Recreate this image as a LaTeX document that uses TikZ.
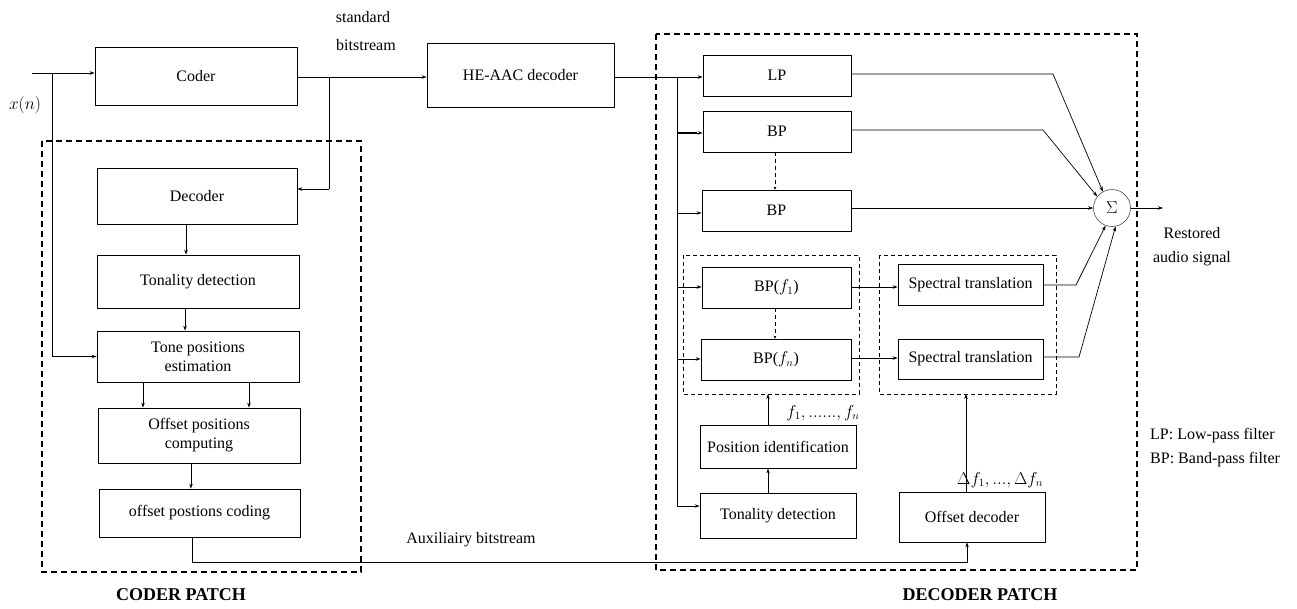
\documentclass[tikz,border=0pt]{standalone}
\usepackage{fontspec}
\setmainfont{Liberation Serif}
\usetikzlibrary{arrows.meta}
\begin{document}
\begin{tikzpicture}[x=1pt,y=-1pt,
  every node/.style={font=\fontsize{16}{19}\selectfont},
  box/.style={draw,line width=0.8pt,inner sep=0pt,align=center},
  arr/.style={line width=0.7pt,-{Stealth[length=5pt,width=3.5pt]}},
  ln/.style={line width=0.7pt},
  patch/.style={draw,line width=2.4pt,dash pattern=on 6pt off 4pt},
  grp/.style={draw,line width=0.7pt,dash pattern=on 4pt off 3pt},
  dsh/.style={line width=0.7pt,dash pattern=on 4pt off 3pt,-{Stealth[length=3pt,width=3pt]}},
  lbl/.style={inner sep=0pt},
  ttl/.style={inner sep=0pt,font=\fontsize{18}{20}\selectfont\bfseries}]
\useasboundingbox (0,0) rectangle (1297,608);

% patches
\draw[patch] (42,141) rectangle (361,572);
\draw[patch] (656,34) rectangle (1137,570);
\draw[grp] (683,255) rectangle (859,394);
\draw[grp] (879,255) rectangle (1056,394);
\coordinate (g1s) at (768,394);
\coordinate (g2s) at (966,394);

% coder side boxes
\node[box,minimum width=202pt,minimum height=58pt] (coder) at (196,76) {Coder};
\node[box,minimum width=187pt,minimum height=64pt] (he) at (520.5,75) {HE-AAC decoder};
\node[box,minimum width=200pt,minimum height=56pt] (dec) at (197,196) {Decoder};
\node[box,minimum width=202pt,minimum height=53pt] (ton1) at (198,281.5) {Tonality detection};
\node[box,minimum width=202pt,minimum height=51pt] (tpe) at (198,356.5) {Tone positions\\estimation};
\node[box,minimum width=202pt,minimum height=55pt] (opc) at (199,435.5) {Offset positions\\computing};
\node[box,minimum width=201pt,minimum height=48pt] (ocod) at (199.5,513) {offset postions coding};

% decoder side boxes
\node[box,minimum width=148pt,minimum height=41pt] (lp) at (777,75.5) {LP};
\node[box,minimum width=148pt,minimum height=41pt] (bp1) at (777,131.5) {BP};
\node[box,minimum width=149pt,minimum height=41pt] (bp2) at (776.5,210.5) {BP};
\node[box,minimum width=149pt,minimum height=41pt] (bpf1) at (776.5,287.5) {BP($f_1$)};
\node[box,minimum width=150pt,minimum height=41pt] (bpfn) at (776,359.5) {BP($f_n$)};
\node[box,minimum width=145pt,minimum height=41pt] (st1) at (970.5,284.5) {Spectral translation};
\node[box,minimum width=145pt,minimum height=40pt] (st2) at (970.5,359) {Spectral translation};
\node[box,minimum width=156pt,minimum height=43pt] (posid) at (778,446.5) {Position identification};
\node[box,minimum width=156pt,minimum height=45pt] (ton2) at (778,515.5) {Tonality detection};
\node[box,minimum width=146pt,minimum height=50pt] (offdec) at (972,517) {Offset decoder};
\node[draw=black!70,line width=0.6pt,circle,minimum size=37pt,inner sep=0pt] (sum) at (1112,208) {$\Sigma$};

% coordinates
\coordinate (in) at (32,73);
\coordinate (xb) at (52,73);
\coordinate (cb) at (329,77);
\coordinate (db) at (677,77);
\coordinate (aux) at (192,562);
\coordinate (out) at (1163,208);

% coder connectors
\draw[arr] (in) -- (in -| coder.west);
\draw[ln] (xb) |- (xb |- tpe.west);
\draw[arr] (xb |- tpe.west) -- (tpe.west);
\draw[arr] (coder.east |- cb) -- (he.west |- cb);
\draw[ln] (cb) -- (cb |- 0,189);
\draw[arr] (cb |- 0,189) -- (dec.east |- 0,189);
\draw[arr] (dec.south -| 186,0) -- (ton1.north -| 186,0);
\draw[arr] (ton1.south -| 185,0) -- (tpe.north -| 185,0);
\draw[arr] (tpe.south -| 143,0) -- (opc.north -| 143,0);
\draw[arr] (tpe.south -| 249,0) -- (opc.north -| 249,0);
\draw[arr] (opc.south -| 191,0) -- (ocod.north -| 191,0);
\draw[ln] (ocod.south -| aux) -- (aux);
\draw[arr] (aux) -| (offdec.south -| 967,0);

% decoder connectors
\draw[arr] (he.east |- db) -- (lp.west |- db);
\draw[ln] (db) -- (677,506);
\draw[line width=2.2pt] (677,133) -- (697,133);
\draw[arr] (677,133) -- (bp1.west |- 0,133);
\draw[arr] (677,213) -- (bp2.west |- 0,213);
\draw[arr] (677,287) -- (bpf1.west |- 0,287);
\draw[arr] (677,359) -- (bpfn.west |- 0,359);
\draw[arr] (677,506) -- (ton2.west |- 0,506);
\draw[dsh] (bp1.south -| 775,0) -- (bp2.north -| 775,0);
\draw[dsh] (bpf1.south -| 775,0) -- (bpfn.north -| 775,0);
\draw[arr] (bpf1.east |- 0,287) -- (st1.west |- 0,287);
\draw[arr] (bpfn.east |- 0,358) -- (st2.west |- 0,358);
\draw[arr] (ton2.north -| 768,0) -- (posid.south -| 768,0);
\draw[arr] (posid.north -| 768,0) -- (g1s);
\draw[arr] (offdec.north -| g2s) -- (g2s);

% into sum
\draw[arr] (lp.east |- 0,74) -- (1053,74) -- (sum.119);
\draw[arr] (bp1.east |- 0,130) -- (1043,130) -- (sum.142);
\draw[arr] (bp2.east |- sum.west) -- (sum.west);
\draw[arr] (st1.east |- 0,285) -- (1076,285) -- (sum.250);
\draw[arr] (st2.east |- 0,357) -- (1079,357) -- (sum.281);
\draw[arr] (sum.east) -- (out);

% labels
\node[lbl] (xn) at (25,105) {$x(n)$};
\node[lbl] (std) at (363,17) {standard};
\node[lbl] (bst) at (366,45) {bitstream};
\node[lbl] (auxl) at (471,540) {Auxiliairy bitstream};
\node[lbl] (fl) at (823,413) {$f_1,......,f_n$};
\node[lbl] (dfl) at (1000,480) {$\Delta f_1,...,\Delta f_n$};
\node[lbl] (rs1) at (1192,233) {Restored};
\node[lbl] (rs2) at (1192,259) {audio signal};
\node[lbl,anchor=west] (lg1) at (1150,436) {LP: Low-pass filter};
\node[lbl,anchor=west] (lg2) at (1150,460) {BP: Band-pass filter};
\node[ttl] (cp) at (181,595) {CODER PATCH};
\node[ttl] (dp) at (980,595) {DECODER PATCH};
\end{tikzpicture}
\end{document}
